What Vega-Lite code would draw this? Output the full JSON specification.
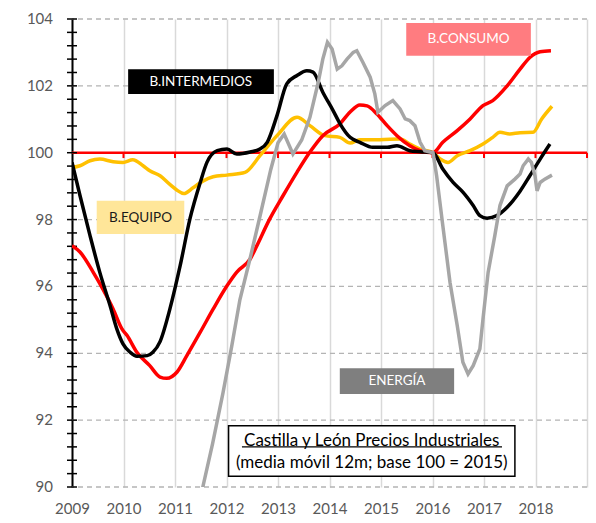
{
  "$schema": "https://vega.github.io/schema/vega-lite/v6.json",
  "width": 515,
  "height": 468,
  "padding": {"left": 12, "top": 12, "right": 9, "bottom": 5},
  "autosize": {"type": "pad"},
  "config": {
    "view": {"stroke": null},
    "font": "Lato",
    "axis": {"labelFont": "Lato", "labelFontSize": 15, "labelColor": "#595959", "title": null},
    "axisY": {
      "labels": false,
      "ticks": false,
      "grid": false,
      "domain": true,
      "domainColor": "#000000", "domainWidth": 2,
      "minExtent": 60, "maxExtent": 60
    },
    "axisX": {
      "labelExpr": "datum.value == 2019 ? '' : datum.label",
      "format": "d",
      "labelFlush": false,
      "labelOverlap": false,
      "grid": true, "gridColor": "#D9D9D9", "gridWidth": 1.5,
      "domain": false, "ticks": false,
      "labelPadding": 14,
      "minExtent": 30, "maxExtent": 30
    }
  },
  "datasets": {
    "consumo": [
      {"t": 2009.0, "v": 97.22}, {"t": 2009.155, "v": 97.03}, {"t": 2009.41, "v": 96.43}, {"t": 2009.6, "v": 95.92},
      {"t": 2009.8, "v": 95.32}, {"t": 2009.97, "v": 94.73}, {"t": 2010.07, "v": 94.53}, {"t": 2010.26, "v": 94.03},
      {"t": 2010.51, "v": 93.63}, {"t": 2010.71, "v": 93.29}, {"t": 2010.84, "v": 93.25}, {"t": 2011.04, "v": 93.44},
      {"t": 2011.23, "v": 93.93}, {"t": 2011.49, "v": 94.63}, {"t": 2011.74, "v": 95.32}, {"t": 2012.01, "v": 96.02},
      {"t": 2012.2, "v": 96.43}, {"t": 2012.46, "v": 96.82}, {"t": 2012.59, "v": 97.22}, {"t": 2012.84, "v": 98.02},
      {"t": 2013.1, "v": 98.72}, {"t": 2013.37, "v": 99.42}, {"t": 2013.62, "v": 100.02}, {"t": 2013.87, "v": 100.51},
      {"t": 2014.2, "v": 100.86}, {"t": 2014.4, "v": 101.22}, {"t": 2014.59, "v": 101.43}, {"t": 2014.73, "v": 101.4},
      {"t": 2014.92, "v": 101.16}, {"t": 2015.12, "v": 100.81}, {"t": 2015.31, "v": 100.51}, {"t": 2015.56, "v": 100.21},
      {"t": 2015.76, "v": 100.06}, {"t": 2016.01, "v": 100.0}, {"t": 2016.2, "v": 100.31}, {"t": 2016.48, "v": 100.66},
      {"t": 2016.73, "v": 101.01}, {"t": 2016.98, "v": 101.41}, {"t": 2017.17, "v": 101.56}, {"t": 2017.45, "v": 102.0},
      {"t": 2017.7, "v": 102.5}, {"t": 2017.89, "v": 102.85}, {"t": 2018.09, "v": 103.02}, {"t": 2018.3, "v": 103.05}
    ],
    "equipo": [
      {"t": 2009.0, "v": 99.56}, {"t": 2009.155, "v": 99.61}, {"t": 2009.35, "v": 99.76}, {"t": 2009.54, "v": 99.81},
      {"t": 2009.8, "v": 99.73}, {"t": 2009.99, "v": 99.71}, {"t": 2010.18, "v": 99.79}, {"t": 2010.38, "v": 99.61},
      {"t": 2010.51, "v": 99.46}, {"t": 2010.71, "v": 99.31}, {"t": 2010.9, "v": 99.05}, {"t": 2011.04, "v": 98.88},
      {"t": 2011.17, "v": 98.78}, {"t": 2011.35, "v": 98.95}, {"t": 2011.54, "v": 99.15}, {"t": 2011.74, "v": 99.28},
      {"t": 2012.01, "v": 99.33}, {"t": 2012.36, "v": 99.41}, {"t": 2012.65, "v": 99.91}, {"t": 2012.98, "v": 100.51},
      {"t": 2013.37, "v": 101.06}, {"t": 2013.62, "v": 100.81}, {"t": 2013.91, "v": 100.51}, {"t": 2014.2, "v": 100.46},
      {"t": 2014.4, "v": 100.29}, {"t": 2014.59, "v": 100.39}, {"t": 2014.98, "v": 100.39}, {"t": 2015.37, "v": 100.41},
      {"t": 2015.56, "v": 100.26}, {"t": 2015.76, "v": 100.11}, {"t": 2016.01, "v": 100.0}, {"t": 2016.15, "v": 99.81},
      {"t": 2016.3, "v": 99.71}, {"t": 2016.48, "v": 99.91}, {"t": 2016.73, "v": 100.06}, {"t": 2016.98, "v": 100.26},
      {"t": 2017.17, "v": 100.46}, {"t": 2017.31, "v": 100.61}, {"t": 2017.5, "v": 100.56}, {"t": 2017.7, "v": 100.6},
      {"t": 2017.95, "v": 100.61}, {"t": 2018.12, "v": 101.01}, {"t": 2018.32, "v": 101.39}
    ],
    "intermedios": [
      {"t": 2009.0, "v": 99.71}, {"t": 2009.155, "v": 98.72}, {"t": 2009.35, "v": 97.52}, {"t": 2009.54, "v": 96.42},
      {"t": 2009.74, "v": 95.42}, {"t": 2009.87, "v": 94.73}, {"t": 2009.99, "v": 94.28}, {"t": 2010.13, "v": 94.03},
      {"t": 2010.26, "v": 93.91}, {"t": 2010.46, "v": 93.93}, {"t": 2010.57, "v": 94.03}, {"t": 2010.71, "v": 94.35},
      {"t": 2010.9, "v": 95.32}, {"t": 2011.1, "v": 96.62}, {"t": 2011.29, "v": 98.02}, {"t": 2011.49, "v": 99.11},
      {"t": 2011.62, "v": 99.71}, {"t": 2011.82, "v": 100.06}, {"t": 2012.01, "v": 100.11}, {"t": 2012.2, "v": 99.96},
      {"t": 2012.46, "v": 100.02}, {"t": 2012.65, "v": 100.11}, {"t": 2012.79, "v": 100.31}, {"t": 2012.98, "v": 101.11},
      {"t": 2013.17, "v": 102.06}, {"t": 2013.37, "v": 102.31}, {"t": 2013.56, "v": 102.45}, {"t": 2013.68, "v": 102.41},
      {"t": 2013.87, "v": 101.81}, {"t": 2014.07, "v": 101.26}, {"t": 2014.2, "v": 100.88}, {"t": 2014.4, "v": 100.46},
      {"t": 2014.59, "v": 100.31}, {"t": 2014.84, "v": 100.16}, {"t": 2015.12, "v": 100.16}, {"t": 2015.31, "v": 100.21},
      {"t": 2015.56, "v": 100.06}, {"t": 2015.76, "v": 100.03}, {"t": 2016.01, "v": 100.0}, {"t": 2016.2, "v": 99.51},
      {"t": 2016.4, "v": 99.11}, {"t": 2016.59, "v": 98.82}, {"t": 2016.79, "v": 98.42}, {"t": 2016.92, "v": 98.12},
      {"t": 2017.06, "v": 98.04}, {"t": 2017.25, "v": 98.12}, {"t": 2017.45, "v": 98.37}, {"t": 2017.7, "v": 98.85},
      {"t": 2017.89, "v": 99.31}, {"t": 2018.09, "v": 99.81}, {"t": 2018.28, "v": 100.26}
    ],
    "energia": [
      {"t": 2011.35, "v": 88.5}, {"t": 2011.54, "v": 90.0}, {"t": 2011.73, "v": 91.3}, {"t": 2011.93, "v": 92.8},
      {"t": 2012.1, "v": 94.2}, {"t": 2012.26, "v": 95.6}, {"t": 2012.46, "v": 96.85}, {"t": 2012.65, "v": 98.1},
      {"t": 2012.86, "v": 99.5}, {"t": 2013.0, "v": 100.3}, {"t": 2013.12, "v": 100.56}, {"t": 2013.29, "v": 99.96},
      {"t": 2013.46, "v": 100.38}, {"t": 2013.62, "v": 101.06}, {"t": 2013.78, "v": 102.1}, {"t": 2013.87, "v": 102.8},
      {"t": 2013.96, "v": 103.3}, {"t": 2014.05, "v": 103.1}, {"t": 2014.15, "v": 102.5}, {"t": 2014.24, "v": 102.6},
      {"t": 2014.34, "v": 102.8}, {"t": 2014.46, "v": 103.0}, {"t": 2014.53, "v": 103.05}, {"t": 2014.65, "v": 102.7},
      {"t": 2014.79, "v": 102.26}, {"t": 2014.88, "v": 101.76}, {"t": 2014.94, "v": 101.21}, {"t": 2015.08, "v": 101.41},
      {"t": 2015.23, "v": 101.56}, {"t": 2015.37, "v": 101.31}, {"t": 2015.47, "v": 101.01}, {"t": 2015.56, "v": 100.96},
      {"t": 2015.66, "v": 100.81}, {"t": 2015.76, "v": 100.31}, {"t": 2015.85, "v": 100.06}, {"t": 2016.01, "v": 100.0},
      {"t": 2016.08, "v": 99.31}, {"t": 2016.2, "v": 97.82}, {"t": 2016.34, "v": 96.12}, {"t": 2016.48, "v": 94.83},
      {"t": 2016.59, "v": 93.73}, {"t": 2016.69, "v": 93.38}, {"t": 2016.79, "v": 93.63}, {"t": 2016.92, "v": 94.13},
      {"t": 2016.98, "v": 95.02}, {"t": 2017.08, "v": 96.42}, {"t": 2017.21, "v": 97.52}, {"t": 2017.31, "v": 98.42},
      {"t": 2017.45, "v": 99.01}, {"t": 2017.6, "v": 99.21}, {"t": 2017.7, "v": 99.36}, {"t": 2017.76, "v": 99.61},
      {"t": 2017.86, "v": 99.81}, {"t": 2017.92, "v": 99.71}, {"t": 2017.99, "v": 99.31}, {"t": 2018.03, "v": 98.86},
      {"t": 2018.09, "v": 99.11}, {"t": 2018.18, "v": 99.21}, {"t": 2018.32, "v": 99.33}
    ],
    "grid": [
      {"v": 90}, {"v": 92}, {"v": 94}, {"v": 96}, {"v": 98}, {"v": 102}, {"v": 104}
    ],
    "ylabels": [
      {"v": 90}, {"v": 92}, {"v": 94}, {"v": 96}, {"v": 98}, {"v": 100}, {"v": 102}, {"v": 104}
    ],
    "yticks": [
      {"v": 90}, {"v": 90.4}, {"v": 90.8}, {"v": 91.2}, {"v": 91.6}, {"v": 92}, {"v": 92.4}, {"v": 92.8}, {"v": 93.2}, {"v": 93.6},
      {"v": 94}, {"v": 94.4}, {"v": 94.8}, {"v": 95.2}, {"v": 95.6}, {"v": 96}, {"v": 96.4}, {"v": 96.8}, {"v": 97.2}, {"v": 97.6},
      {"v": 98}, {"v": 98.4}, {"v": 98.8}, {"v": 99.2}, {"v": 99.6}, {"v": 100}, {"v": 100.4}, {"v": 100.8}, {"v": 101.2}, {"v": 101.6},
      {"v": 102}, {"v": 102.4}, {"v": 102.8}, {"v": 103.2}, {"v": 103.6}, {"v": 104}
    ],
    "years": [
      {"t": 2010}, {"t": 2011}, {"t": 2012}, {"t": 2013}, {"t": 2014}, {"t": 2015}, {"t": 2016}, {"t": 2017}, {"t": 2018}, {"t": 2019}
    ],
    "boxes": [
      {"label": "B.INTERMEDIOS", "t1": 2010.09, "t2": 2012.92, "v1": 102.5, "v2": 101.76, "tx": 2011.5, "ty": 102.13},
      {"label": "B.CONSUMO", "t1": 2015.49, "t2": 2017.91, "v1": 103.88, "v2": 102.9, "tx": 2016.7, "ty": 103.39},
      {"label": "B.EQUIPO", "t1": 2009.48, "t2": 2011.18, "v1": 98.56, "v2": 97.57, "tx": 2010.33, "ty": 98.06},
      {"label": "ENERGÍA", "t1": 2014.2, "t2": 2016.42, "v1": 93.55, "v2": 92.78, "tx": 2015.31, "ty": 93.16}
    ],
    "frame": [
      {"t1": 2012.04, "t2": 2017.6, "v1": 91.83, "v2": 90.32}
    ],
    "titlelines": [
      {"line": "Castilla y León Precios Industriales", "t": 2014.82, "v": 91.39},
      {"line": "(media móvil 12m; base 100 = 2015)", "t": 2014.82, "v": 90.72}
    ],
    "underline": [
      {"t1": 2012.3, "t2": 2017.35, "v": 91.2}
    ]
  },
  "layer": [
    {
      "data": {"name": "grid"},
      "mark": {"type": "rule", "color": "#B4B4B4", "strokeWidth": 1.3, "strokeDash": [5, 4]},
      "encoding": {
        "y": {"field": "v", "type": "quantitative", "scale": {"domain": [90, 104], "nice": false, "zero": false}}
      }
    },
    {
      "data": {"name": "years"},
      "mark": {"type": "rule", "color": "#D9D9D9", "strokeWidth": 1.5, "opacity": 0},
      "encoding": {
        "x": {
          "field": "t", "type": "quantitative",
          "scale": {"domain": [2009, 2019], "nice": false, "zero": false},
          "axis": {"values": [2009, 2010, 2011, 2012, 2013, 2014, 2015, 2016, 2017, 2018, 2019]}
        }
      }
    },
    {
      "data": {"values": [{"v": 100}]},
      "mark": {"type": "rule", "color": "#FF0000", "strokeWidth": 2.5},
      "encoding": {"y": {"field": "v", "type": "quantitative"}}
    },
    {
      "data": {"name": "years"},
      "mark": {"type": "rule", "color": "#FF0000", "strokeWidth": 2},
      "encoding": {
        "x": {"field": "t", "type": "quantitative"},
        "y": {"datum": 100, "type": "quantitative"},
        "y2": {"datum": 99.84}
      }
    },
    {
      "data": {"name": "yticks"},
      "mark": {"type": "rule", "color": "#000000", "strokeWidth": 1.5},
      "encoding": {
        "x": {"datum": 2008.903, "type": "quantitative"},
        "x2": {"datum": 2009.097},
        "y": {"field": "v", "type": "quantitative"}
      }
    },
    {
      "data": {"name": "ylabels"},
      "mark": {"type": "text", "font": "Lato", "fontSize": 15, "color": "#595959", "align": "right", "baseline": "middle", "dx": -19},
      "encoding": {
        "x": {"datum": 2009, "type": "quantitative"},
        "y": {"field": "v", "type": "quantitative"},
        "text": {"field": "v", "type": "quantitative", "format": "d"}
      }
    },
    {
      "data": {"name": "equipo"},
      "mark": {"type": "line", "color": "#FFC000", "strokeWidth": 3.5, "clip": true, "interpolate": "monotone"},
      "encoding": {
        "x": {"field": "t", "type": "quantitative"},
        "y": {"field": "v", "type": "quantitative"}
      }
    },
    {
      "data": {"name": "consumo"},
      "mark": {"type": "line", "color": "#FF0000", "strokeWidth": 3.5, "clip": true, "interpolate": "monotone"},
      "encoding": {
        "x": {"field": "t", "type": "quantitative"},
        "y": {"field": "v", "type": "quantitative"}
      }
    },
    {
      "data": {"name": "intermedios"},
      "mark": {"type": "line", "color": "#000000", "strokeWidth": 3.5, "clip": true, "interpolate": "monotone"},
      "encoding": {
        "x": {"field": "t", "type": "quantitative"},
        "y": {"field": "v", "type": "quantitative"}
      }
    },
    {
      "data": {"name": "energia"},
      "mark": {"type": "line", "color": "#A6A6A6", "strokeWidth": 3.5, "clip": true},
      "encoding": {
        "x": {"field": "t", "type": "quantitative"},
        "y": {"field": "v", "type": "quantitative"}
      }
    },
    {
      "data": {"name": "boxes"},
      "mark": {"type": "rect"},
      "encoding": {
        "x": {"field": "t1", "type": "quantitative"},
        "x2": {"field": "t2"},
        "y": {"field": "v1", "type": "quantitative"},
        "y2": {"field": "v2"},
        "color": {
          "field": "label", "type": "nominal", "legend": null,
          "scale": {"domain": ["B.INTERMEDIOS", "B.CONSUMO", "B.EQUIPO", "ENERGÍA"], "range": ["#000000", "#FF7C80", "#FFE699", "#7F7F7F"]}
        }
      }
    },
    {
      "data": {"name": "boxes"},
      "mark": {"type": "text", "font": "Lato", "fontSize": 13.5, "align": "center", "baseline": "middle"},
      "encoding": {
        "x": {"field": "tx", "type": "quantitative"},
        "y": {"field": "ty", "type": "quantitative"},
        "text": {"field": "label"},
        "fill": {
          "field": "label", "type": "nominal", "legend": null,
          "scale": {"domain": ["B.INTERMEDIOS", "B.CONSUMO", "B.EQUIPO", "ENERGÍA"], "range": ["#FFFFFF", "#FFFFFF", "#1A1A1A", "#FFFFFF"]}
        }
      }
    },
    {
      "data": {"name": "frame"},
      "mark": {"type": "rect", "fill": "#FFFFFF", "stroke": "#000000", "strokeWidth": 1.5},
      "encoding": {
        "x": {"field": "t1", "type": "quantitative"},
        "x2": {"field": "t2"},
        "y": {"field": "v1", "type": "quantitative"},
        "y2": {"field": "v2"}
      }
    },
    {
      "data": {"name": "titlelines"},
      "mark": {"type": "text", "font": "Lato", "fontSize": 17, "color": "#000000", "align": "center", "baseline": "middle"},
      "encoding": {
        "x": {"field": "t", "type": "quantitative"},
        "y": {"field": "v", "type": "quantitative"},
        "text": {"field": "line"}
      }
    },
    {
      "data": {"name": "underline"},
      "mark": {"type": "rule", "color": "#000000", "strokeWidth": 1.2},
      "encoding": {
        "x": {"field": "t1", "type": "quantitative"},
        "x2": {"field": "t2"},
        "y": {"field": "v", "type": "quantitative"}
      }
    }
  ]
}
